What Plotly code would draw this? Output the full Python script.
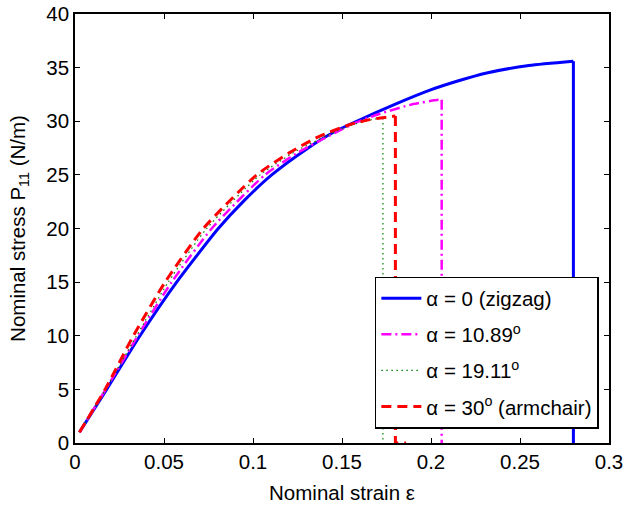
import plotly.graph_objects as go

# strain / stress: pre-failure curve, then the drop at failure
strain_a0 = [0.0025, 0.0178, 0.0365, 0.0571, 0.0805, 0.0950, 0.1105, 0.1300, 0.1450,
             0.1582, 0.1800, 0.1994, 0.2150, 0.2313, 0.2550, 0.2800]
stress_a0 = [1.0, 5.0, 10.0, 15.0, 20.0, 22.6, 25.0, 27.4, 28.95,
             30.0, 31.6, 32.9, 33.75, 34.5, 35.2, 35.6]
drop_strain_a0 = [0.2800, 0.2800]
drop_stress_a0 = [35.6, 0.0]

strain_a1089 = [0.0025, 0.0176, 0.0360, 0.0543, 0.0768, 0.1067, 0.1255, 0.1423,
                0.1582, 0.1713, 0.1900, 0.2041, 0.2060]
stress_a1089 = [1.0, 5.1, 10.2, 15.0, 20.0, 25.0, 27.1, 28.6,
                29.9, 30.7, 31.6, 32.0, 32.0]
drop_strain_a1089 = [0.2060, 0.2060]
drop_stress_a1089 = [32.0, 0.0]

strain_a1911 = [0.0025, 0.0172, 0.0346, 0.0524, 0.0740, 0.1040, 0.1250, 0.1460,
                0.1545, 0.1680, 0.1730]
stress_a1911 = [1.0, 5.0, 10.0, 15.0, 20.0, 25.0, 27.3, 29.0,
                29.6, 30.2, 30.3]
drop_strain_a1911 = [0.1730, 0.1730]
drop_stress_a1911 = [30.3, 0.0]

strain_a30 = [0.0025, 0.0169, 0.0328, 0.0506, 0.0721, 0.1021, 0.1208, 0.1367,
              0.1545, 0.1657, 0.1780, 0.1800]
stress_a30 = [1.0, 5.0, 10.0, 15.0, 20.0, 25.0, 27.1, 28.55,
              29.7, 30.15, 30.45, 30.5]
drop_strain_a30 = [0.1800, 0.1800, 0.1860]
drop_stress_a30 = [30.5, 0.0, 0.0]

x_ticks = [0, 0.05, 0.1, 0.15, 0.2, 0.25, 0.3]
x_ticktext = ["0", "0.05", "0.1", "0.15", "0.2", "0.25", "0.3"]
y_ticks = [0, 5, 10, 15, 20, 25, 30, 35, 40]

FONT = "Liberation Sans, Arial, Helvetica, sans-serif"
FS = 20.5

series = [
    ("α = 0 (zigzag)", strain_a0, stress_a0, drop_strain_a0, drop_stress_a0,
     "#0000ff", "solid", 3),
    ("α = 10.89<sup>o</sup>", strain_a1089, stress_a1089, drop_strain_a1089, drop_stress_a1089,
     "#ff00ff", "10px,4px,2px,4px", 2.5),
    ("α = 19.11<sup>o</sup>", strain_a1911, stress_a1911, drop_strain_a1911, drop_stress_a1911,
     "#008000", "1.5px,3.5px", 1.2),
    ("α = 30<sup>o</sup> (armchair)", strain_a30, stress_a30, drop_strain_a30, drop_stress_a30,
     "#ff0000", "10px,6px", 3),
]

fig = go.Figure()
for i, (name, xs, ys, dxs, dys, color, dash, width) in enumerate(series):
    line = dict(color=color, dash=dash, width=width)
    fig.add_scatter(
        x=xs, y=ys, mode="lines", name=name, legendgroup=f"g{i}",
        line=dict(shape="spline", smoothing=0.6, **line),
    )
    fig.add_scatter(
        x=dxs, y=dys, mode="lines", name=name, legendgroup=f"g{i}",
        showlegend=False, line=line,
    )

axis_common = dict(
    showline=True, linecolor="black", linewidth=1.5, mirror="ticks",
    ticks="inside", ticklen=5, tickwidth=1, tickcolor="black",
    showgrid=False, zeroline=False, automargin=False,
    ticklabeloverflow="allow",
    tickfont=dict(family=FONT, size=FS, color="black"),
)

fig.update_xaxes(
    range=[0, 0.3], tickvals=x_ticks, ticktext=x_ticktext,
    title=dict(text="Nominal strain ε", font=dict(family=FONT, size=FS, color="black"), standoff=13),
    **axis_common,
)
fig.update_yaxes(
    range=[0, 40], tickvals=y_ticks,
    title=dict(text="Nominal stress P<sub>11</sub> (N/m)", font=dict(family=FONT, size=FS, color="black"), standoff=15),
    **axis_common,
)

fig.update_layout(
    width=624, height=506,
    margin=dict(l=75, r=15, t=14, b=63),
    paper_bgcolor="white", plot_bgcolor="white",
    font=dict(family=FONT, color="black"),
    showlegend=True,
    legend=dict(
        x=0.981, y=0.033, xanchor="right", yanchor="bottom",
        bgcolor="white", bordercolor="black", borderwidth=1.5,
        font=dict(family=FONT, size=FS, color="black"),
        traceorder="grouped", tracegroupgap=6.5, itemwidth=40,
    ),
)

# drop the default 8px body margin so the 624x506 figure fills the window exactly
fig.write_html(
    "out.html",
    config={"displayModeBar": False},
    post_script="document.body.style.margin='0px';",
)
